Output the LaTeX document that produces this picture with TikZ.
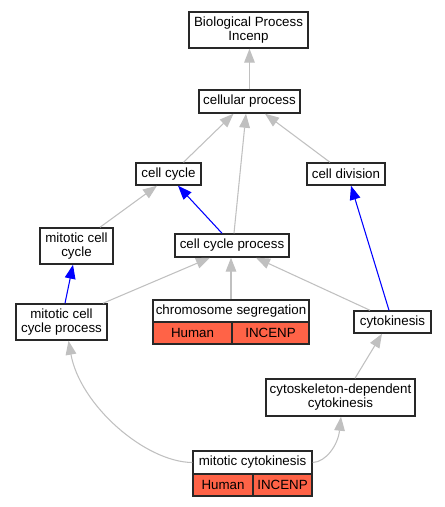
\documentclass[tikz,border=0pt]{standalone}
\usepackage{fontspec}
\setmainfont{Liberation Sans}
\usetikzlibrary{arrows.meta}
\definecolor{edgegray}{RGB}{192,192,192}
\definecolor{tomatored}{RGB}{255,99,71}
\definecolor{borderc}{RGB}{40,40,40}
\begin{document}
\begin{tikzpicture}[x=0.75pt,y=-0.75pt,
  box/.style 2 args={draw=borderc, line width=1.1pt, fill=white, inner sep=0pt, align=center,
     minimum width=#1*0.75pt, minimum height=#2*0.75pt, font=\fontsize{10}{10.5}\selectfont},
  redbox/.style 2 args={box={#1}{#2}, fill=tomatored},
  gedge/.style={draw=edgegray, line width=0.8pt, -{Triangle[length=10.5pt,width=8pt]}},
  bedge/.style={draw=blue, line width=0.8pt, -{Triangle[length=10.5pt,width=8pt]}}]
\useasboundingbox (0,0) rectangle (445,507);

\node[box={119}{36}] (bp) at (248.5,30) {Biological Process\\Incenp};
\node[box={101}{23}] (cp) at (249.5,101.5) {cellular process};
\node[box={65}{22}] (cc) at (168.5,174) {cell cycle};
\node[box={78}{22}] (cd) at (346,174) {cell division};
\node[box={73}{36}] (mcc) at (76.5,246) {mitotic cell\\cycle};
\node[box={114}{23}] (ccp) at (232,245.5) {cell cycle process};
\node[box={91}{36}] (mccp) at (61.5,322) {mitotic cell\\cycle process};
\node[box={156}{22}] (chs) at (231,311) {chromosome segregation};
\node[redbox={79}{22}] (chsh) at (192.5,333) {Human};
\node[redbox={77}{22}] (chsi) at (270.5,333) {INCENP};
\node[box={77}{22}] (cyt) at (392.5,322) {cytokinesis};
\node[box={149}{37}] (csd) at (340.5,397.5) {cytoskeleton-dependent\\cytokinesis};
\node[box={119}{23}] (mck) at (252.5,462.5) {mitotic cytokinesis};
\node[redbox={60}{22}] (mckh) at (223,485) {Human};
\node[redbox={59}{22}] (mcki) at (282.5,485) {INCENP};

\draw[gedge] (cp.north) -- (cp.north |- bp.south);
\draw[gedge] ([xshift=15*0.75pt]cc.north) -- ([xshift=-16*0.75pt]cp.south);
\draw[gedge] ([xshift=2*0.75pt]ccp.north) -- ([xshift=-3.5*0.75pt]cp.south);
\draw[gedge] ([xshift=-16*0.75pt]cd.north) -- ([xshift=15.5*0.75pt]cp.south);
\draw[gedge] ([xshift=23.5*0.75pt]mcc.north) -- ([xshift=-11.5*0.75pt]cc.south);
\draw[bedge] ([xshift=-10*0.75pt]ccp.north) -- ([xshift=9.5*0.75pt]cc.south);
\draw[bedge] ([xshift=3.5*0.75pt]mccp.north) -- ([xshift=-3.5*0.75pt]mcc.south);
\draw[gedge] ([xshift=41.5*0.75pt]mccp.north) -- ([xshift=-22*0.75pt]ccp.south);
\draw[gedge] (chs.north) -- (chs.north |- ccp.south);
\draw[gedge] ([xshift=-22.5*0.75pt]cyt.north) -- ([xshift=24*0.75pt]ccp.south);
\draw[bedge] ([xshift=-3.5*0.75pt]cyt.north) -- ([xshift=5*0.75pt]cd.south);
\draw[gedge] ([xshift=14.5*0.75pt]csd.north) -- ([xshift=-10.5*0.75pt]cyt.south);
\draw[gedge] (mck.west) .. controls (145,462) and (80,405) .. ([xshift=7*0.75pt]mccp.south);
\draw[gedge] (mck.east) .. controls (326,462) and (338,445) .. ([xshift=0.5*0.75pt]csd.south);
\end{tikzpicture}
\end{document}
